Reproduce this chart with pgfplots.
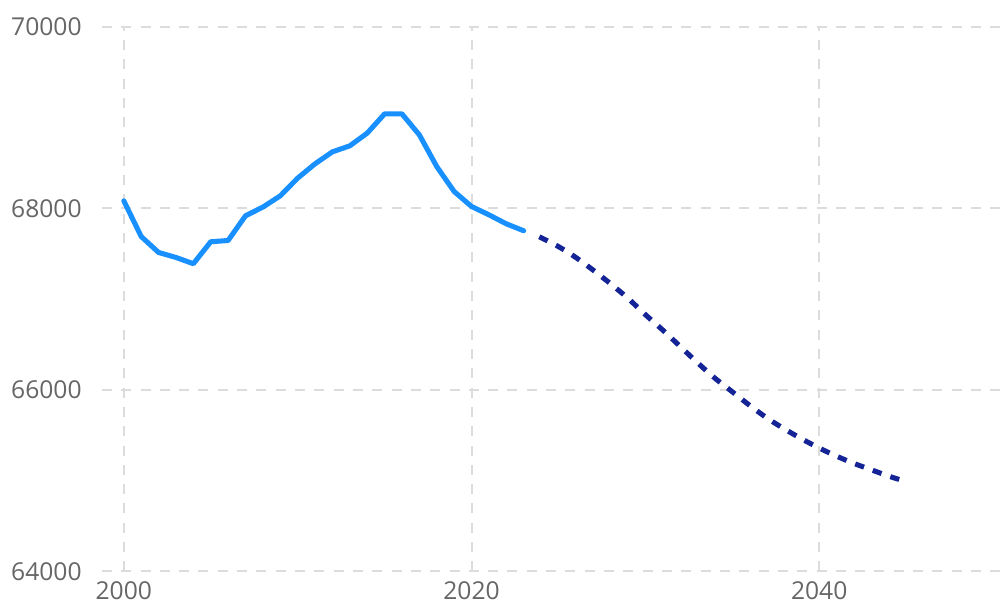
\documentclass[border=0pt]{standalone}
\usepackage{pgfplots}
\pgfplotsset{compat=1.18}
\usepackage{fontspec}
\setmainfont{Open Sans}
\definecolor{solidblue}{RGB}{24,144,255}
\definecolor{navy}{RGB}{20,35,150}
\definecolor{gridgray}{RGB}{220,220,220}
\definecolor{labgray}{RGB}{102,102,102}
\begin{document}
\begin{tikzpicture}
\begin{axis}[
  scale only axis,
  width=677.25pt, height=408.75pt,
  xmin=1998.74, xmax=2050.63,
  ymin=64000, ymax=70000,
  xtick={2000,2020,2040},
  ytick={64000,66000,68000,70000},
  scaled ticks=false,
  axis line style={draw=none},
  major tick length=0pt,
  grid=major,
  major grid style={gridgray, line width=1.5pt, dash pattern=on 7.5pt off 7pt},
  tick label style={font=\fontsize{18.5}{20}\selectfont, text=labgray, inner sep=0pt},
  /pgf/number format/assume math mode=true,
  /pgf/number format/set thousands separator={},
  /pgf/number format/1000 sep={},
  yticklabel style={anchor=east, xshift=-15pt},
  xticklabel style={anchor=north, yshift=-7.5pt},
  clip=false,
]
\addplot[solidblue, line width=3.8pt, line join=round, line cap=round] coordinates {
(2000,68084) (2001,67691) (2002,67515) (2003,67460) (2004,67391)
(2005,67633) (2006,67647) (2007,67919) (2008,68015) (2009,68139)
(2010,68334) (2011,68492) (2012,68624) (2013,68690) (2014,68830)
(2015,69042) (2016,69042) (2017,68811) (2018,68462) (2019,68187)
(2020,68022) (2021,67930) (2022,67831) (2023,67754)
};
\addplot[navy, line width=3.8pt, line cap=butt, dash pattern=on 7pt off 7pt, smooth] coordinates {
(2023.9,67688) (2025,67580) (2026,67460) (2027,67320) (2028,67170)
(2029,67010) (2030,66830) (2031,66660) (2032,66480) (2033,66300)
(2034,66130) (2035,65980) (2036,65830) (2037,65690) (2038,65570)
(2039,65460) (2040,65360) (2041,65270) (2042,65190) (2043,65120)
(2044,65050) (2045,64990)
};
\end{axis}
\path[use as bounding box] ([xshift=-76.5pt,yshift=-28.5pt]current axis.south west) rectangle ([yshift=20.25pt]current axis.north east);
\end{tikzpicture}
\end{document}
